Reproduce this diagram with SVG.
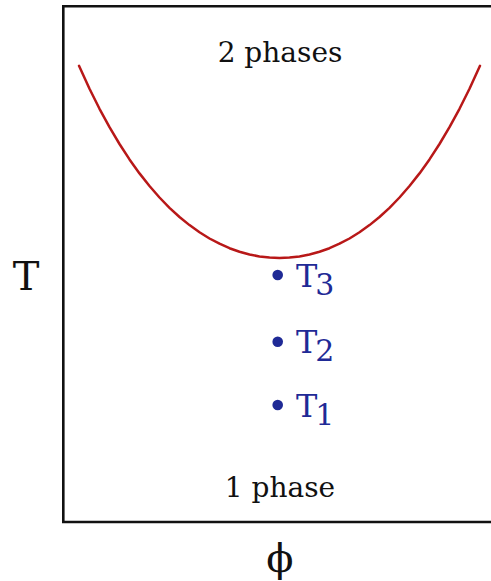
<svg xmlns="http://www.w3.org/2000/svg" width="491" height="581" viewBox="0 0 491 581">
<style>
.lbl{font-family:"DejaVu Serif","Liberation Serif",serif;fill:#111;}
.blue{font-family:"DejaVu Serif","Liberation Serif",serif;fill:#1f2a96;font-size:32px;}
.dot{fill:#1f2a96;}
.curve{fill:none;stroke:#b81818;stroke-width:2.5;stroke-linecap:round;stroke-linejoin:round;}
.frame{fill:none;stroke:#111;stroke-width:2.6;}
</style>
<rect width="491" height="581" fill="#ffffff"/>
<g id="frame">
<path class="frame" d="M495,6.3 H63.3 V522 H495"/>
</g>
<g id="connectors">
<polyline class="curve" points="79,65.8 89.5,88.7 99.5,108.8 109.5,127.2 119.5,144 129.5,159.4 139.5,173.4 149.5,186 159.5,197.5 169.5,207.8 179.5,217 189.5,225.1 199.5,232.3 209.5,238.5 219.5,243.7 229.5,248.2 239.5,251.7 249.5,254.5 259.5,256.4 269.5,257.6 279.5,258 289.5,257.6 299.5,256.4 309.5,254.5 319.5,251.7 329.5,248.2 339.5,243.7 349.5,238.5 359.5,232.3 369.5,225.1 379.5,217 389.5,207.8 399.5,197.5 409.5,186 419.5,173.4 429.5,159.4 439.5,144 449.5,127.2 459.5,108.8 469.5,88.7 480,65.8"/>
</g>
<g id="label-2phases">
<text class="lbl" x="280" y="62" font-size="28" text-anchor="middle">2 phases</text>
</g>
<g id="label-1phase">
<text class="lbl" x="280" y="497" font-size="28" text-anchor="middle">1 phase</text>
</g>
<g id="axis-T">
<text class="lbl" x="26" y="290" font-size="40" text-anchor="middle">T</text>
</g>
<g id="axis-phi">
<text class="lbl" x="280" y="572" font-size="40" text-anchor="middle">ϕ</text>
</g>
<g id="T3">
<circle class="dot" cx="277.7" cy="275" r="5.3"/>
<text class="blue" x="296" y="286.7">T<tspan font-size="30" dy="8" dx="-2">3</tspan></text>
</g>
<g id="T2">
<circle class="dot" cx="277.7" cy="341.7" r="5.3"/>
<text class="blue" x="296" y="353.3">T<tspan font-size="30" dy="8" dx="-2">2</tspan></text>
</g>
<g id="T1">
<circle class="dot" cx="277.7" cy="405" r="5.3"/>
<text class="blue" x="296" y="416.7">T<tspan font-size="30" dy="8" dx="-2">1</tspan></text>
</g>
</svg>
